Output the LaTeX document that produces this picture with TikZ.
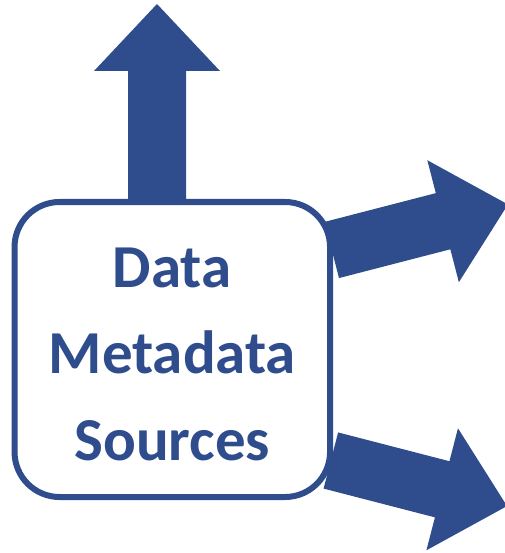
\documentclass[tikz,border=0pt]{standalone}
\usepackage{fontspec}
\setmainfont{Carlito}
\usetikzlibrary{positioning,calc}
\definecolor{metablue}{RGB}{47,76,140}

\begin{document}
\begin{tikzpicture}[
x=1pt,y=-1pt,
box/.style={
draw=metablue,
line width=6pt,
rounded corners=45pt,
fill=white,
outer sep=0pt,
minimum width=315.5pt,
minimum height=295pt
},
title/.style={
align=center,
text=metablue,
font=\bfseries\fontsize{61}{86.5}\selectfont
},
pics/fatarrow/.style={code={
\fill[metablue] (0,-29) -- (#1,-29) -- (#1,-63) -- (#1+67,0)
-- (#1,63) -- (#1,29) -- (0,29) -- cycle;
}}
]
\useasboundingbox (0,0) rectangle (504,553);

\node[box] (sources) at (172.3,349.5) {};
\node[title] (label) at ($(sources)+(0,4.5)$) {Data\\Metadata\\Sources};

% thick arrows leaving the box
\pic[rotate=90] at ($(sources.north)+(-15.3,0)$) {fatarrow=131};
\pic[rotate=14.5] at ($(sources.east)+(1.7,-99.5)$) {fatarrow=115};
\pic[rotate=-14.5] at ($(sources.east)+(0.8,111)$) {fatarrow=115};

\end{tikzpicture}
\end{document}
